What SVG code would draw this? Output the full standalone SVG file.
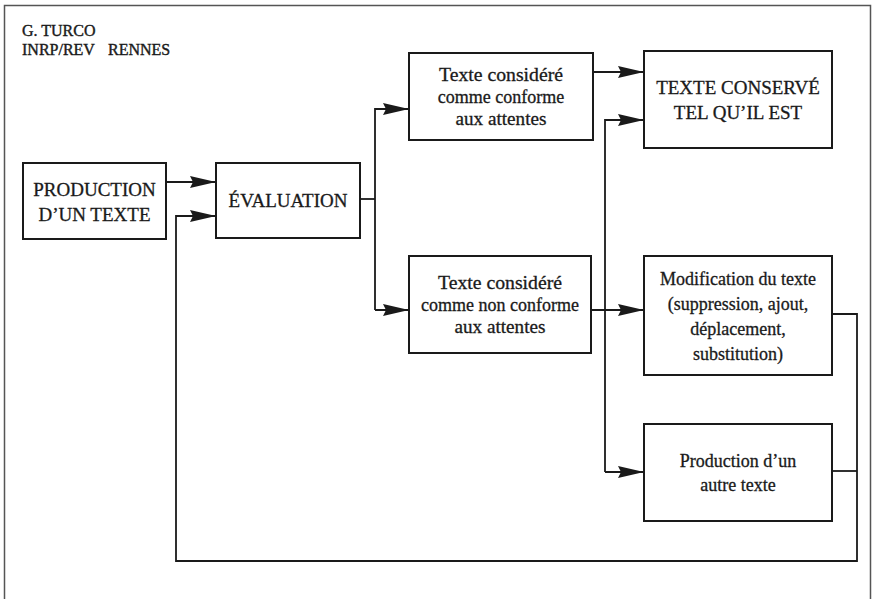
<svg xmlns="http://www.w3.org/2000/svg" width="873" height="599" viewBox="0 0 873 599">
<style>
.box{fill:#fff;stroke:#1a1a1a;stroke-width:2}
.t{font-family:"Liberation Serif","Times New Roman",serif;fill:#1a1a1a;stroke:#1a1a1a;stroke-width:0.3;text-anchor:middle}
.s18{font-size:18px}
.s19{font-size:19px}
.hdr{font-family:"Liberation Serif","Times New Roman",serif;font-size:16px;fill:#1a1a1a;stroke:#1a1a1a;stroke-width:0.4}
.c{fill:none;stroke:#1a1a1a;stroke-width:1.8}
.ca{fill:none;stroke:#1a1a1a;stroke-width:1.8;marker-end:url(#ah)}
.frame{fill:none;stroke:#555;stroke-width:1.5}
</style>
<defs>
<marker id="ah" markerUnits="userSpaceOnUse" markerWidth="28" markerHeight="14" refX="26" refY="7" orient="auto">
<path d="M0,1 L26,7 L0,13 L3,7 Z" fill="#1a1a1a"/>
</marker>
</defs>
<rect width="873" height="599" fill="#fff"/>
<path class="frame" d="M4.5,600 V5.5 H870.5 V600"/>
<g id="header">
<text class="hdr" x="22" y="36">G. TURCO</text>
<text class="hdr" x="22" y="55">INRP/REV<tspan x="108">RENNES</tspan></text>
</g>
<g id="connectors">
<path class="ca" d="M166,182 H216"/>
<path class="ca" d="M832,314 H857 V561 H176 V216 H216"/>
<path class="c" d="M832,471 H857"/>
<path class="c" d="M360,199 H375"/>
<path class="ca" d="M375,310 V109 H409"/>
<path class="ca" d="M375,310 H409"/>
<path class="ca" d="M593,72 H644"/>
<path class="ca" d="M591,310 H644"/>
<path class="ca" d="M605,472 V120 H644"/>
<path class="ca" d="M605,472 H644"/>
</g>
<g id="production">
<rect class="box" x="23" y="163" width="143" height="76"/>
<text class="t s19" x="94.5" y="196">PRODUCTION</text>
<text class="t s19" x="94.5" y="221">D’UN TEXTE</text>
</g>
<g id="evaluation">
<rect class="box" x="216" y="163" width="144" height="75"/>
<text class="t s19" x="288" y="207">ÉVALUATION</text>
</g>
<g id="conforme">
<rect class="box" x="409" y="53" width="184" height="87"/>
<text class="t s18" x="501" y="81" textLength="124" lengthAdjust="spacingAndGlyphs">Texte considéré</text>
<text class="t s18" x="501" y="103">comme conforme</text>
<text class="t s18" x="501" y="125" textLength="91" lengthAdjust="spacingAndGlyphs">aux attentes</text>
</g>
<g id="non-conforme">
<rect class="box" x="409" y="256" width="182" height="97"/>
<text class="t s18" x="500" y="289" textLength="124" lengthAdjust="spacingAndGlyphs">Texte considéré</text>
<text class="t s18" x="500" y="311">comme non conforme</text>
<text class="t s18" x="500" y="333" textLength="91" lengthAdjust="spacingAndGlyphs">aux attentes</text>
</g>
<g id="conserve">
<rect class="box" x="644" y="51" width="188" height="97"/>
<text class="t s19" x="738" y="94">TEXTE CONSERVÉ</text>
<text class="t s19" x="738" y="119">TEL QU’IL EST</text>
</g>
<g id="modification">
<rect class="box" x="644" y="256" width="188" height="119"/>
<text class="t s18" x="738" y="285">Modification du texte</text>
<text class="t s18" x="738" y="310">(suppression, ajout,</text>
<text class="t s18" x="738" y="335">déplacement,</text>
<text class="t s18" x="738" y="360">substitution)</text>
</g>
<g id="autre">
<rect class="box" x="644" y="424" width="188" height="97"/>
<text class="t s18" x="738" y="467">Production d’un</text>
<text class="t s18" x="738" y="491">autre texte</text>
</g>
</svg>
